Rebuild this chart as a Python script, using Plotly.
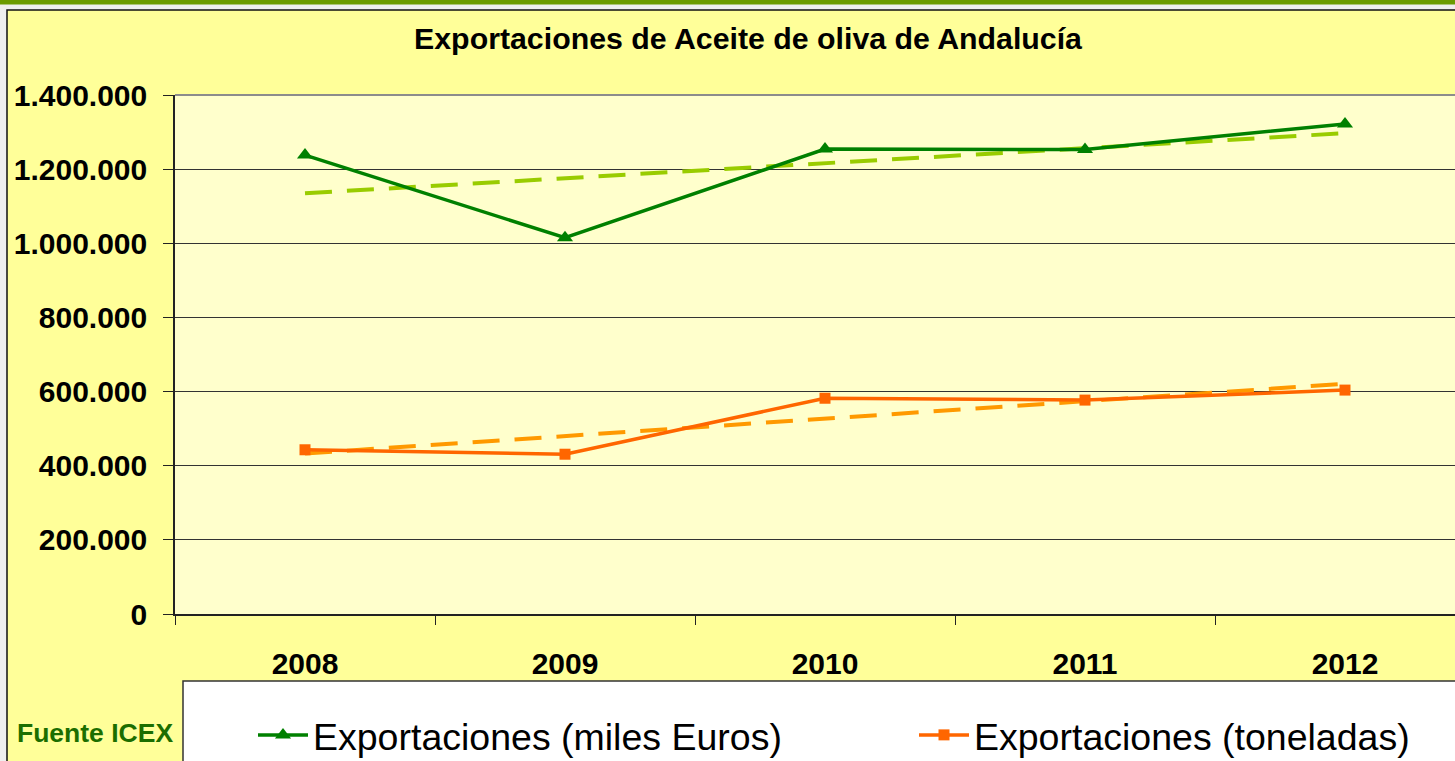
import plotly.graph_objects as go

# ---- data ----
years = ["2008", "2009", "2010", "2011", "2012"]
export_eur = [1238000, 1015000, 1254000, 1253000, 1322000]   # miles Euros
export_ton = [443000, 431000, 582000, 577000, 604000]         # toneladas
trend_years = ["2008", "2012"]
trend_eur = [1135000, 1297000]
trend_ton = [433000, 621000]
y_ticks = [0, 200000, 400000, 600000, 800000, 1000000, 1200000, 1400000]

title_text = "Exportaciones de Aceite de oliva de Andalucía"
name_eur = "Exportaciones (miles Euros)"
name_ton = "Exportaciones (toneladas)"
source_text = "Fuente ICEX"

# ---- geometry helpers (pixel -> paper) ----
W, H = 1455, 761
L, R, T, B = 175, 0, 95, 147
PW, PH = W - L - R, H - T - B


def px(x):
    return (x - L) / PW


def py(y):
    return (H - B - y) / PH


FONT = "Liberation Sans, Arial, sans-serif"

fig = go.Figure()

fig.add_trace(go.Scatter(
    x=trend_years, y=trend_eur, mode="lines", showlegend=False, hoverinfo="skip",
    line=dict(color="#99cc00", width=4, dash="27px,15px")))
fig.add_trace(go.Scatter(
    x=trend_years, y=trend_ton, mode="lines", showlegend=False, hoverinfo="skip",
    line=dict(color="#ff9900", width=4, dash="27px,15px")))
fig.add_trace(go.Scatter(
    x=years, y=export_eur, mode="lines+markers", name=name_eur, legend="legend",
    line=dict(color="#008000", width=3.5),
    marker=dict(symbol="triangle-up", size=14, color="#008000")))
fig.add_trace(go.Scatter(
    x=years, y=export_ton, mode="lines+markers", name=name_ton, legend="legend2",
    line=dict(color="#ff6600", width=3.5),
    marker=dict(symbol="square", size=11, color="#ff6600")))

shapes = [
    # green band at top of page
    dict(type="rect", xref="paper", yref="paper", layer="below",
         x0=px(-5), x1=px(W + 5), y0=py(4.5), y1=py(-5),
         fillcolor="#6b9b00", line=dict(width=0)),
    # yellow chart frame
    dict(type="rect", xref="paper", yref="paper", layer="below",
         x0=px(7), x1=px(W + 20), y0=py(H + 20), y1=py(10),
         fillcolor="#ffff99", line=dict(color="#111111", width=1.5)),
    # plot area
    dict(type="rect", xref="paper", yref="paper", layer="below",
         x0=0, x1=1, y0=0, y1=1,
         fillcolor="#ffffcc", line=dict(width=0)),
    # plot area top border
    dict(type="line", xref="paper", yref="paper", layer="below",
         x0=0, x1=1, y0=1, y1=1, line=dict(color="#8c8c8c", width=2)),
    # legend box
    dict(type="rect", xref="paper", yref="paper", layer="below",
         x0=px(183), x1=px(W + 20), y0=py(H + 20), y1=py(681),
         fillcolor="#ffffff", line=dict(color="#333333", width=1.5)),
]

legend_common = dict(orientation="h", xanchor="left", y=py(735), yanchor="middle",
                     bgcolor="rgba(0,0,0,0)", borderwidth=0,
                     font=dict(family=FONT, size=37.5, color="#000000"),
                     itemwidth=50)

fig.update_layout(
    width=W, height=H,
    margin=dict(l=L, r=R, t=T, b=B, pad=0, autoexpand=False),
    paper_bgcolor="#efefef",
    plot_bgcolor="rgba(0,0,0,0)",
    separators=",.",
    font=dict(family=FONT, color="#000000"),
    title=dict(text=title_text, x=748 / W, xanchor="center", xref="container",
               y=1 - 38 / H, yanchor="middle", yref="container",
               font=dict(family=FONT, size=30.3, weight="bold", color="#000000")),
    shapes=shapes,
    showlegend=True,
    legend=dict(x=px(253), **legend_common),
    legend2=dict(x=px(914), **legend_common),
    annotations=[dict(text=source_text, xref="paper", yref="paper",
                      x=px(95), y=py(733), xanchor="center", yanchor="middle",
                      showarrow=False,
                      font=dict(family=FONT, size=26.5, weight="bold", color="#1b6e00"))],
    xaxis=dict(type="category", categoryorder="array", categoryarray=years,
               range=[-0.5, -0.5 + PW / 260.0],
               tickson="boundaries", ticks="outside", ticklen=9, tickwidth=1,
               tickcolor="#222222", showgrid=False, showline=True,
               linecolor="#222222", linewidth=1.5, zeroline=False,
               ticklabelstandoff=22,
               tickfont=dict(family=FONT, size=30, weight="bold", color="#000000")),
    yaxis=dict(range=[0, 1400000], tickvals=y_ticks, tickformat=",d",
               ticks="outside", ticklen=10, tickwidth=1, tickcolor="#222222",
               showgrid=True, gridcolor="#333333", gridwidth=1,
               showline=True, linecolor="#222222", linewidth=1.5, zeroline=False,
               ticklabelstandoff=10,
               tickfont=dict(family=FONT, size=30, weight="bold", color="#000000")),
)

fig.write_html("out.html", config={"displayModeBar": False},
               post_script="document.body.style.margin='0';")
